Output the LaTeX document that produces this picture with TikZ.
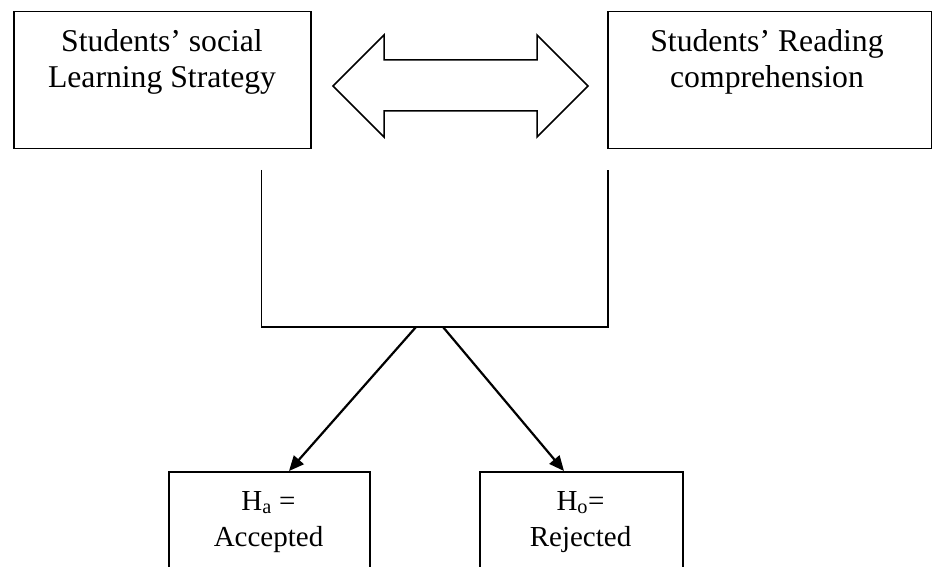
\documentclass[tikz,border=0pt]{standalone}
\usepackage{fontspec}
\setmainfont{Liberation Serif}
\usetikzlibrary{arrows.meta}
\begin{document}
\begin{tikzpicture}[x=1pt,y=-1pt,
  box/.style={draw, line width=1.5pt, inner sep=0pt, anchor=north west},
  bigtxt/.style={align=center, anchor=base, inner sep=0pt, font=\fontsize{31.7}{36.5}\selectfont},
  smalltxt/.style={align=center, anchor=base, inner sep=0pt, font=\fontsize{29}{36}\selectfont},
  conn/.style={line width=1.5pt},
  arr/.style={line width=2.2pt, -{Triangle[length=15pt,width=13pt]}}]
\useasboundingbox (0,0) rectangle (932,567);
% top boxes
\node[box, minimum width=297pt, minimum height=137pt] (sls) at (13,11) {};
\node[box, minimum width=324pt, minimum height=137pt] (src) at (607,11) {};
\node[bigtxt] (slstext) at (162,88) {Students’ social\\Learning Strategy};
\node[bigtxt] (srctext) at (767,88) {Students’ Reading\\comprehension};
% double arrow
\draw[line width=1.5pt, line join=miter] (333,86) -- (384,35) -- (384,60) -- (537,60) -- (537,35)
  -- (588,86) -- (537,137) -- (537,111) -- (384,111) -- (384,137) -- cycle;
% bracket
\coordinate (bl) at (261.5,170);
\coordinate (br) at (608,170);
\coordinate (bbl) at (261.5,327);
\coordinate (bbr) at (608,327);
\draw[conn] (bl) -- (bbl) -- (bbr) -- (br);
% bottom boxes
\node[box, minimum width=201pt, minimum height=130pt] (ha) at (168,471) {};
\node[box, minimum width=203pt, minimum height=130pt] (ho) at (479,471) {};
\node[smalltxt] (hatext) at (268.5,546) {H\textsubscript{a} =\\Accepted};
\node[smalltxt] (hotext) at (580.5,546) {H\textsubscript{o}=\\Rejected};
% arrows
\coordinate (s1) at (416,327);
\coordinate (s2) at (443,327);
\coordinate (e1) at (289,471);
\coordinate (e2) at (564,471);
\draw[arr] (s1) -- (e1);
\draw[arr] (s2) -- (e2);
\end{tikzpicture}
\end{document}
